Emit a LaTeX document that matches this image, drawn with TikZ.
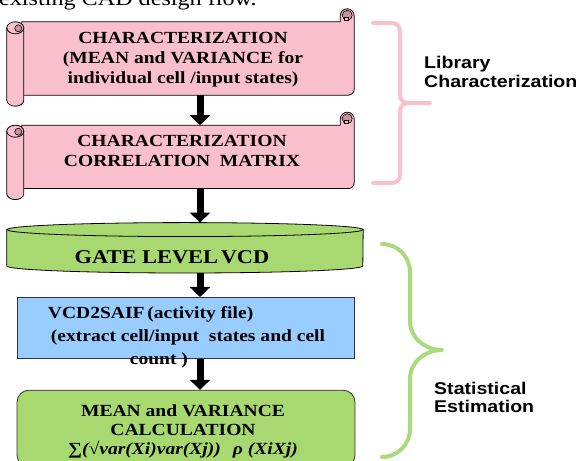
\documentclass[tikz,border=0pt]{standalone}
\usepackage{fontspec}
\usepackage{tikz}
\usetikzlibrary{
    arrows.meta,
    positioning,
    calc
}
\newfontfamily\flowserif[FakeStretch=1.15]{Liberation Serif}
\newfontfamily\flowsans[FakeStretch=1.15]{Liberation Sans}
\definecolor{scrollpink}{HTML}{FABFCC}
\definecolor{curlmauve}{HTML}{C8939E}
\definecolor{bracepink}{HTML}{F8C2CD}
\definecolor{vcdgreen}{HTML}{A8D870}
\definecolor{bracegreen}{HTML}{A9DA7B}
\definecolor{saifblue}{HTML}{99CCFF}
\tikzset{
    scroll body/.style={
        rectangle, draw=none, inner sep=0pt,
        minimum width=332
    },
    scroll edge/.style={
        draw=black, line width=0.8pt, fill=scrollpink, line join=round
    },
    curl edge/.style={
        draw=black, line width=0.6pt, fill=curlmauve
    },
    cyl body/.style={
        rectangle, draw=none, inner sep=0pt,
        minimum width=356, minimum height=50
    },
    cyl edge/.style={
        draw=black, line width=0.8pt, fill=vcdgreen
    },
    saif box/.style={
        rectangle, draw=black!80, fill=saifblue, line width=0.8pt,
        minimum width=337, minimum height=61, inner sep=0pt
    },
    calc box/.style={
        rectangle, draw=black!80, fill=vcdgreen, line width=0.8pt,
        rounded corners=12pt, minimum width=338, minimum height=77,
        inner sep=0pt
    },
    box text/.style={
        font=\flowserif\bfseries\fontsize{17}{20}\selectfont,
        align=center, inner sep=0pt
    },
    side label/.style={
        font=\flowsans\bfseries\fontsize{17}{18.5}\selectfont,
        align=left, inner sep=0pt, anchor=west
    },
    block arrow/.style={
        line width=7pt, draw=black,
        -{Triangle[width=20pt, length=10pt]}
    },
    brace line/.style={
        line width=4pt, draw=#1, line cap=round, line join=round
    },
}
% scroll outline round a body node
\newcommand{\scrollshape}[1]{%
    \filldraw[scroll edge] (#1.north west) -- ($(#1.north east)+(-14,0)$) -- ++(0,6)
        arc[start angle=180, end angle=0, radius=7] -- ($(#1.south east)+(0,6)$)
        arc[start angle=0, end angle=-90, radius=6] -- (#1.south west) -- cycle;
    \filldraw[curl edge] ($(#1.north east)+(-7,6.5)$) circle[radius=5];
    \filldraw[scroll edge, line width=0.5pt] ($(#1.north east)+(-10,1.5)$) rectangle ($(#1.north east)+(-6,5)$);
    \filldraw[scroll edge] ($(#1.north west)+(-15,-6)$) -- ($(#1.south west)+(-15,-5)$)
        arc[start angle=180, end angle=360, x radius=8.5, y radius=6] -- ($(#1.north west)+(2,-6)$) -- cycle;
    \filldraw[scroll edge] ($(#1.north west)+(-6.5,-6)$) ellipse[x radius=8.5, y radius=6];
    \filldraw[curl edge] ($(#1.north west)+(-3.5,-6.5)$) circle[radius=3.5];
}

\begin{document}
\begin{tikzpicture}[x=1pt, y=1pt]

    \useasboundingbox (0,0) rectangle (582,461);
    \clip (0,0) rectangle (582,461);

    % cut caption line above the flow
    \node[font=\flowserif\fontsize{21}{24}\selectfont, anchor=base west, inner sep=0pt] (flowcap) at (-1,455) {existing CAD design flow.};

    % Library characterization scrolls
    \node[scroll body, minimum height=73] (charmv) at (188,402.5) {};
    \scrollshape{charmv}
    \node[box text, xshift=-5pt, yshift=-1pt] (charmvtext) at (charmv) {CHARACTERIZATION\\(MEAN and VARIANCE for\\individual cell /input states)};

    \node[scroll body, minimum height=63, below=30pt of charmv] (charcorr) {};
    \scrollshape{charcorr}
    \node[box text, xshift=-6pt, yshift=5.5pt] (charcorrtext) at (charcorr) {CHARACTERIZATION\\CORRELATION\ \ MATRIX};

    % Gate level VCD cylinder
    \node[cyl body, below=34pt of charcorr, xshift=-3pt] (vcd) {};
    \filldraw[cyl edge] ($(vcd.north west)+(0,-7)$) -- ($(vcd.south west)+(0,7)$)
        arc[start angle=180, end angle=360, x radius=178, y radius=7]
        -- ($(vcd.north east)+(0,-7)$) -- cycle;
    \filldraw[cyl edge] ($(vcd.north)+(0,-7)$) ellipse[x radius=178, y radius=7];
    \node[box text, font=\flowserif\bfseries\fontsize{19.5}{22}\selectfont, xshift=-13pt, yshift=-9pt] (vcdtext) at (vcd) {GATE LEVEL\hspace{-3pt} VCD};

    % Statistical estimation steps
    \node[saif box, below=24pt of vcd, xshift=0.5pt] (saif) {};
    \node[box text, align=left, font=\flowserif\bfseries\fontsize{17}{23}\selectfont, xshift=1pt, yshift=-9pt] (saiftext) at (saif) {VCD2SAIF\hspace{-2pt} (activity file)\\\hspace*{3pt}(extract cell/input\ \ states and cell\\\hspace*{82pt}count )};

    \node[calc box, below=31pt of saif, xshift=0.5pt] (meanvar) {};
    \node[box text, font=\flowserif\bfseries\fontsize{17}{19}\selectfont, xshift=-3pt, yshift=-2.5pt] (meanvartext) at (meanvar) {MEAN and VARIANCE\\CALCULATION\\{\itshape ∑(√var(Xi)var(Xj))\hspace{12pt}ρ (XiXj)}};

    % Flows
    \coordinate (spine) at (200,0);
    \draw[block arrow] (charmv.south -| spine) -- (charcorr.north -| spine);
    \draw[block arrow] (charcorr.south -| spine) -- (vcd.north -| spine);
    \draw[block arrow] (vcd.south -| spine) -- (saif.north -| spine);
    \draw[block arrow] (saif.south -| spine) -- (meanvar.north -| spine);

    % Braces
    \draw[brace line=bracepink] (373,438) -- (392,438) to[out=0, in=90] (400,430) -- (400,366)
        to[out=-90, in=180] (408,358) -- (430,358) -- (408,358)
        to[out=180, in=90] (400,350) -- (400,286) to[out=-90, in=0] (392,278) -- (373,278);
    \node[side label] (libchar) at (424,389) {Library\\Characterization};

    \draw[brace line=bracegreen] (382,217) to[out=0, in=90] (410,189) -- (410,140)
        to[out=-90, in=180] (442,111) to[out=180, in=90] (410,82) -- (410,32)
        to[out=-90, in=0] (382,4);
    \node[side label] (statest) at (434,63.6) {Statistical\\Estimation};

\end{tikzpicture}
\end{document}
